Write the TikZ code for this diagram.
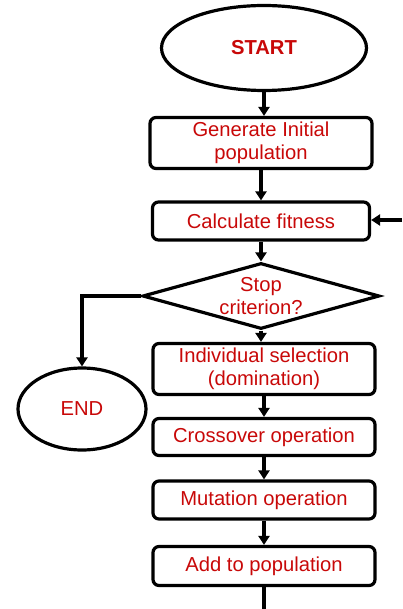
\documentclass[tikz,border=0pt]{standalone}
\usepackage{fontspec}
\setmainfont{Liberation Sans}
\usetikzlibrary{shapes.geometric,arrows.meta}

\definecolor{txtred}{RGB}{200,8,8}

\begin{document}
\begin{tikzpicture}[x=1pt,y=-1pt,
  every node/.style={font=\fontsize{20.2}{22.5}\selectfont, text=txtred, align=center},
  box/.style={draw=black, line width=3.2pt, rounded corners=6pt, minimum width=222pt, inner sep=0pt},
  term/.style={draw=black, ellipse, line width=3.2pt, inner sep=0pt},
  decision/.style={draw=black, diamond, line width=3.2pt, minimum width=237pt, minimum height=66pt, inner sep=0pt},
  arr/.style={line width=3.2pt, -{Triangle[length=9pt,width=11pt]}},
  link/.style={line width=3.2pt}]
  \useasboundingbox (0,0) rectangle (402,609);

  \node[term, minimum width=205pt, minimum height=85pt] (start) at (264,48) {\textbf{START}};
  \node[box, minimum height=51pt] (gen) at (261,143) {Generate Initial\\population};
  \node[box, minimum height=38pt, minimum width=217pt] (fit) at (261,221) {Calculate fitness};
  \node[decision] (stop) at (261,296) {};
  \node (stoptxt) at (stop.center) {Stop\\criterion?};
  \node[term, minimum width=128pt, minimum height=82pt] (finish) at (82,409) {END};
  \node[box, minimum height=51pt] (sel) at (264,369) {Individual selection\\(domination)};
  \node[box, minimum height=37pt] (cross) at (264,437) {Crossover operation};
  \node[box, minimum height=38pt] (mut) at (264,500) {Mutation operation};
  \node[box, minimum height=39pt] (add) at (264,566) {Add to population};

  % loop ends at the picture's edges
  \coordinate (loopin) at (402,220);
  \coordinate (loopout) at (264,609);

  \draw[arr] (start.south) -- (start.south |- gen.north);
  \draw[arr] (gen.south) -- (fit.north);
  \draw[arr] (fit.south) -- (stop.north);
  \draw[arr] (stop.south) -- (stop.south |- sel.north);
  \draw[arr] (sel.south) -- (cross.north);
  \draw[arr] (cross.south) -- (mut.north);
  \draw[arr] (mut.south) -- (add.north);
  \draw[arr] (stop.west) -| (finish.north);
  \draw[arr] (loopin) -- (fit.east |- loopin);
  \draw[link] (add.south) -- (loopout);
\end{tikzpicture}
\end{document}
